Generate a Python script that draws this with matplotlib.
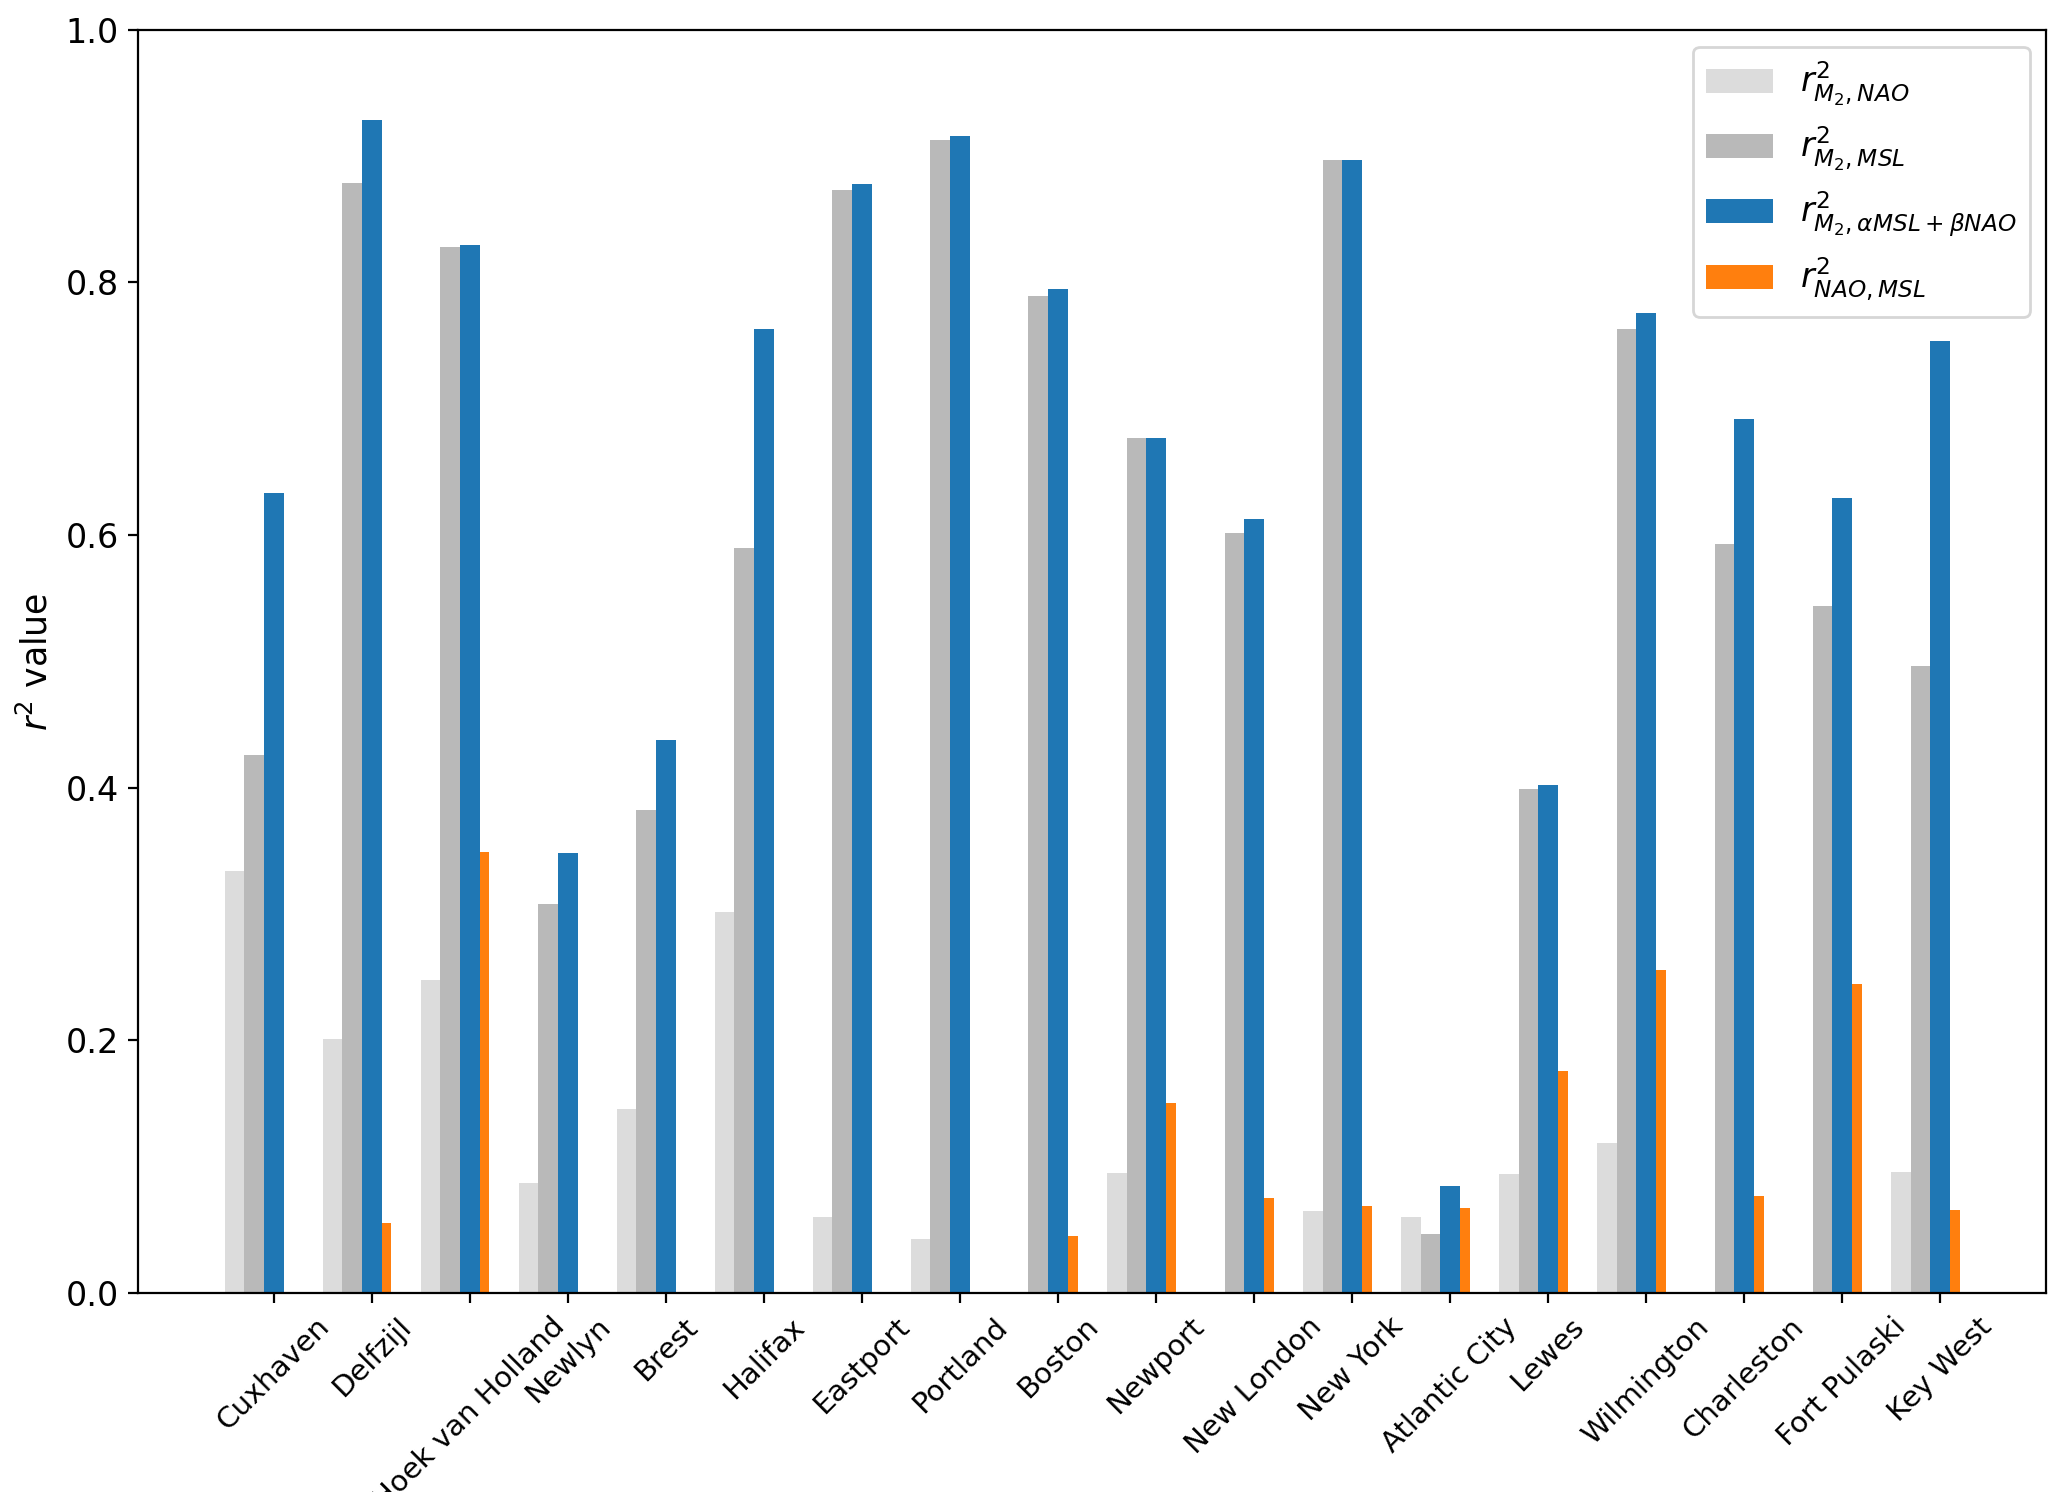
import numpy as np
import matplotlib
matplotlib.use('Agg')
import matplotlib.pyplot as plt

stations = ['Cuxhaven', 'Delfzijl', 'Hoek van Holland', 'Newlyn', 'Brest', 'Halifax',
            'Eastport', 'Portland', 'Boston', 'Newport', 'New London', 'New York',
            'Atlantic City', 'Lewes', 'Wilmington', 'Charleston', 'Fort Pulaski', 'Key West']

r2_m2_nao = [0.334, 0.201, 0.248, 0.087, 0.146, 0.302, 0.060, 0.043, 0.0, 0.095,
             0.0, 0.065, 0.060, 0.094, 0.119, 0.0, 0.0, 0.096]
r2_m2_msl = [0.426, 0.879, 0.828, 0.308, 0.382, 0.590, 0.873, 0.913, 0.789, 0.677,
             0.602, 0.897, 0.047, 0.399, 0.763, 0.593, 0.544, 0.496]
r2_m2_comb = [0.633, 0.929, 0.830, 0.348, 0.438, 0.763, 0.878, 0.916, 0.795, 0.677,
              0.613, 0.897, 0.085, 0.402, 0.776, 0.692, 0.629, 0.754]
r2_nao_msl = [0.0, 0.055, 0.349, 0.0, 0.0, 0.0, 0.0, 0.0, 0.045, 0.150,
              0.075, 0.069, 0.067, 0.176, 0.256, 0.077, 0.245, 0.066]

fig = plt.figure(figsize=(10.335, 7.46), dpi=200)
ax = fig.add_subplot(111)
fig.subplots_adjust(left=0.0668, right=0.990, top=0.980, bottom=0.1334)

x = np.arange(len(stations))
w = 0.2
ax.bar(x - 2 * w, r2_m2_nao, w, color='#dcdcdc', label=r'$r^2_{M_2,NAO}$')
ax.bar(x - w, r2_m2_msl, w, color='#b9b9b9', label=r'$r^2_{M_2,MSL}$')
ax.bar(x, r2_m2_comb, w, color='#1f77b4', label=r'$r^2_{M_2,\alpha MSL+\beta NAO}$')
ax.bar(x + 0.75 * w, r2_nao_msl, w / 2, color='#ff7f0e', label=r'$r^2_{NAO,MSL}$')

ax.set_ylim(0, 1.0)
ax.set_xticks(x)
ax.set_xticklabels(stations, rotation=45, fontsize=10.5)
ax.tick_params(axis='y', labelsize=12)
ax.set_ylabel(r'$r^2$ value', fontsize=12.5)
ax.legend(loc='upper right', fontsize=12)

fig.savefig('out.png', dpi=200)
